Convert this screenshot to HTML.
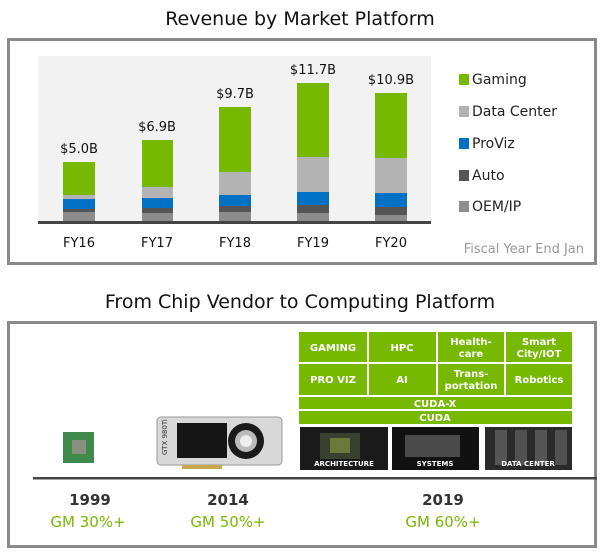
<!DOCTYPE html>
<html><head><meta charset="utf-8"><style>
html,body{margin:0;padding:0;background:#fff;}
svg{display:block;font-family:"DejaVu Sans","Liberation Sans",sans-serif;}
</style></head><body>
<svg width="600" height="554" viewBox="0 0 600 554" xmlns="http://www.w3.org/2000/svg">
<text x="300" y="25" text-anchor="middle" font-size="19" fill="#111">Revenue by Market Platform</text>
<rect x="8.5" y="39.5" width="587" height="224" fill="#fff" stroke="#8a8a8a" stroke-width="3"/>
<rect x="38" y="56" width="393" height="166" fill="#f2f2f2"/>
<g>
<rect x="63" y="162" width="32" height="33" fill="#76b900"/><rect x="63" y="195" width="32" height="4" fill="#b3b3b3"/><rect x="63" y="199" width="32" height="10" fill="#0071c5"/><rect x="63" y="209" width="32" height="3" fill="#555"/><rect x="63" y="212" width="32" height="10" fill="#8c8c8c"/>
<rect x="142" y="140" width="31" height="47" fill="#76b900"/><rect x="142" y="187" width="31" height="11" fill="#b3b3b3"/><rect x="142" y="198" width="31" height="10" fill="#0071c5"/><rect x="142" y="208" width="31" height="5" fill="#555"/><rect x="142" y="213" width="31" height="9" fill="#8c8c8c"/>
<rect x="219" y="107" width="32" height="65" fill="#76b900"/><rect x="219" y="172" width="32" height="23" fill="#b3b3b3"/><rect x="219" y="195" width="32" height="11" fill="#0071c5"/><rect x="219" y="206" width="32" height="6" fill="#555"/><rect x="219" y="212" width="32" height="10" fill="#8c8c8c"/>
<rect x="297" y="83" width="32" height="74" fill="#76b900"/><rect x="297" y="157" width="32" height="35" fill="#b3b3b3"/><rect x="297" y="192" width="32" height="13" fill="#0071c5"/><rect x="297" y="205" width="32" height="8" fill="#555"/><rect x="297" y="213" width="32" height="9" fill="#8c8c8c"/>
<rect x="375" y="93" width="32" height="65" fill="#76b900"/><rect x="375" y="158" width="32" height="35" fill="#b3b3b3"/><rect x="375" y="193" width="32" height="14" fill="#0071c5"/><rect x="375" y="207" width="32" height="8" fill="#555"/><rect x="375" y="215" width="32" height="7" fill="#8c8c8c"/>
</g>
<rect x="38" y="221" width="393" height="3" fill="#444"/>
<g font-size="13" fill="#111" text-anchor="middle">
<text x="79" y="153">$5.0B</text><text x="157" y="131">$6.9B</text><text x="235" y="98">$9.7B</text><text x="313" y="74">$11.7B</text><text x="391" y="84">$10.9B</text>
<text x="79" y="247">FY16</text><text x="157" y="247">FY17</text><text x="235" y="247">FY18</text><text x="313" y="247">FY19</text><text x="391" y="247">FY20</text>
</g>
<g font-size="14" fill="#222">
<rect x="459" y="74" width="10" height="11" fill="#76b900"/><text x="472" y="84">Gaming</text>
<rect x="459" y="106" width="10" height="11" fill="#b3b3b3"/><text x="472" y="116">Data Center</text>
<rect x="459" y="138" width="10" height="11" fill="#0071c5"/><text x="472" y="148">ProViz</text>
<rect x="459" y="170" width="10" height="11" fill="#555"/><text x="472" y="180">Auto</text>
<rect x="459" y="201" width="10" height="11" fill="#8c8c8c"/><text x="472" y="211">OEM/IP</text>
</g>
<text x="584" y="253" text-anchor="end" font-size="13" fill="#999">Fiscal Year End Jan</text>

<text x="300" y="308" text-anchor="middle" font-size="19" fill="#111">From Chip Vendor to Computing Platform</text>
<rect x="8.5" y="322.5" width="587" height="224" fill="#fff" stroke="#8a8a8a" stroke-width="3"/>
<g fill="#76b900">
<rect x="299" y="332" width="68" height="30"/><rect x="369" y="332" width="67" height="30"/><rect x="438" y="332" width="66" height="30"/><rect x="506" y="332" width="66" height="30"/>
<rect x="299" y="364" width="68" height="31"/><rect x="369" y="364" width="67" height="31"/><rect x="438" y="364" width="66" height="31"/><rect x="506" y="364" width="66" height="31"/>
<rect x="299" y="397" width="273" height="12"/><rect x="299" y="411" width="273" height="13"/>
</g>
<g fill="#fff" font-size="10" font-weight="bold" text-anchor="middle">
<text x="333" y="351">GAMING</text><text x="402" y="351">HPC</text><text x="471" y="345">Health-</text><text x="471" y="357">care</text><text x="539" y="345">Smart</text><text x="539" y="357">City/IOT</text>
<text x="333" y="383">PRO VIZ</text><text x="402" y="383">AI</text><text x="471" y="377">Trans-</text><text x="471" y="389">portation</text><text x="539" y="383">Robotics</text>
<text x="435" y="407">CUDA-X</text><text x="435" y="421">CUDA</text>
</g>
<rect x="300" y="427" width="88" height="43" fill="#1a1a1a"/>
<rect x="320" y="433" width="40" height="26" fill="#3a4030"/><rect x="330" y="438" width="20" height="15" fill="#6b7a3a"/>
<rect x="392" y="427" width="87" height="43" fill="#111"/>
<rect x="405" y="435" width="55" height="22" fill="#4a4a4a"/>
<rect x="485" y="427" width="87" height="43" fill="#2a2a2a"/>
<rect x="495" y="430" width="12" height="35" fill="#555"/><rect x="515" y="430" width="12" height="35" fill="#505050"/><rect x="535" y="430" width="12" height="35" fill="#555"/><rect x="555" y="430" width="12" height="35" fill="#505050"/>
<g fill="#fff" font-size="7" font-weight="bold" text-anchor="middle">
<text x="344" y="466">ARCHITECTURE</text><text x="435" y="466">SYSTEMS</text><text x="528" y="466">DATA CENTER</text>
</g>
<rect x="63" y="432" width="31" height="31" fill="#3f8a4a"/><rect x="72" y="440" width="14" height="14" fill="#8a9080"/>
<rect x="157" y="417" width="125" height="48" rx="4" fill="#d8d8d8" stroke="#999"/>
<rect x="177" y="423" width="50" height="35" fill="#151515"/><circle cx="246" cy="441" r="18" fill="#1a1a1a"/><circle cx="246" cy="441" r="11" fill="#bbb"/><circle cx="246" cy="441" r="6" fill="#eee"/>
<rect x="182" y="465" width="40" height="4" fill="#c9a84c"/>
<text x="167" y="455" font-size="7" fill="#333" transform="rotate(-90 167 455)">GTX 980Ti</text>
<rect x="33" y="477" width="564" height="2.5" fill="#444"/>
<g font-size="15" text-anchor="middle">
<text x="90" y="505" fill="#333" font-weight="bold">1999</text><text x="228" y="505" fill="#333" font-weight="bold">2014</text><text x="443" y="505" fill="#333" font-weight="bold">2019</text>
<text x="88" y="527" fill="#76b900">GM 30%+</text><text x="228" y="527" fill="#76b900">GM  50%+</text><text x="443" y="527" fill="#76b900">GM  60%+</text>
</g>
</svg>
</body></html>
